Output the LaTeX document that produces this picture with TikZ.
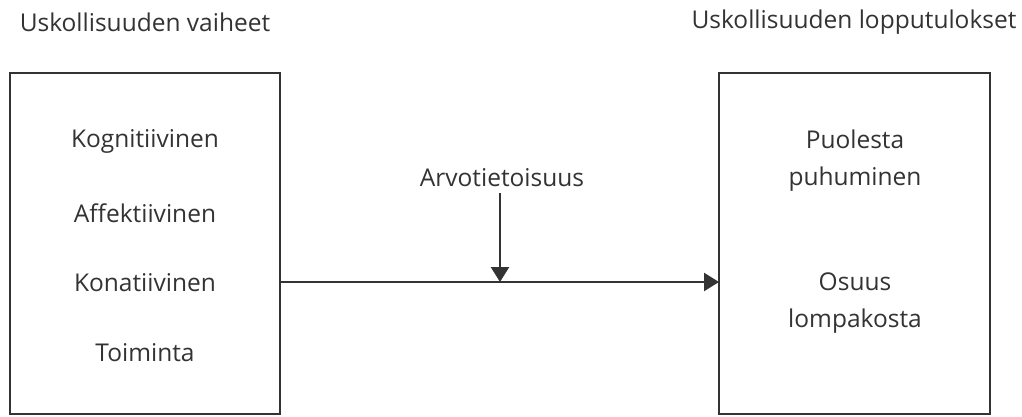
\documentclass[tikz,border=0pt]{standalone}
\usepackage{fontspec}
\setmainfont{Open Sans}
\usetikzlibrary{arrows.meta}
\definecolor{ink}{HTML}{333333}
\begin{document}
\begin{tikzpicture}[x=1pt,y=-1pt,
  lbl/.style={text=ink,font=\fontsize{24.5}{37}\selectfont,inner sep=0pt,align=center},
  boxx/.style={draw=ink,line width=2.4pt},
  arr/.style={draw=ink,line width=2.4pt,-{Triangle[length=15pt,width=18pt]}}]
\useasboundingbox (0,0) rectangle (1022,416);
\node[lbl] (t1) at (145,22) {Uskollisuuden vaiheet};
\node[lbl] (t2) at (854,22) {Uskollisuuden lopputulokset};
\draw[boxx] (10,73) rectangle (280,414);
\coordinate (lbr) at (280,282);
\draw[boxx] (719,73) rectangle (990,414);
\coordinate (rbl) at (719,282);
\node[lbl] (k1) at (145,141) {Kognitiivinen};
\node[lbl] (k2) at (145,213) {Affektiivinen};
\node[lbl] (k3) at (145,283) {Konatiivinen};
\node[lbl] (k4) at (145,353) {Toiminta};
\node[lbl] (p1) at (855,161) {Puolesta\\puhuminen};
\node[lbl] (p2) at (855,303) {Osuus\\lompakosta};
\node[lbl] (av) at (502,178) {Arvotietoisuus};
\coordinate (mid) at (500,282);
\draw[arr] (lbr) -- (rbl);
\draw[arr] (500,193) -- (mid);
\end{tikzpicture}
\end{document}
